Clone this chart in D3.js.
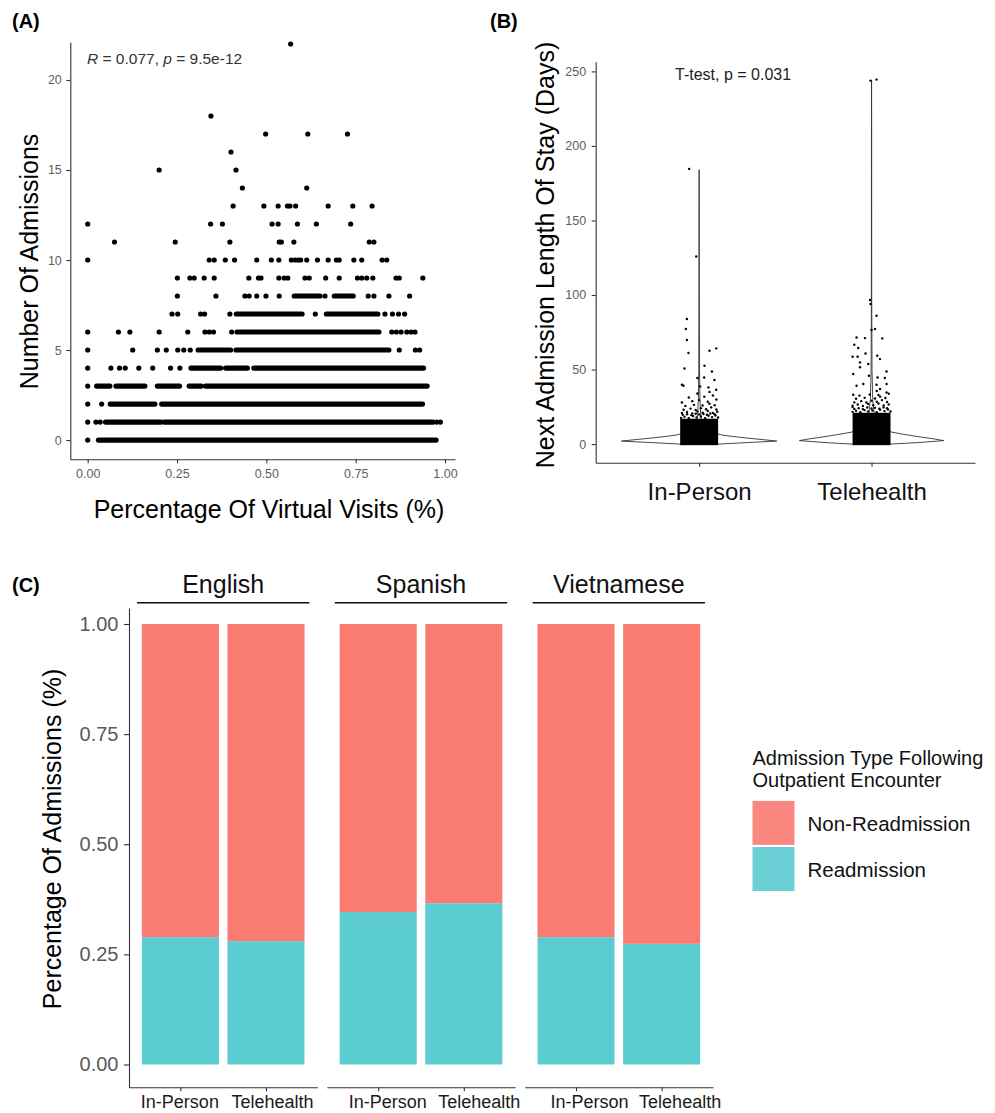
<!DOCTYPE html>
<html>
<head>
<meta charset="utf-8">
<script src="https://cdn.jsdelivr.net/npm/d3@7"></script>
<style>
body { margin: 0; background: #fff; }
text { font-family: "Liberation Sans", Arial, Helvetica, sans-serif; }
</style>
</head>
<body>
<div id="fig"></div>
<script>
// ---------- (A) admissions vs share of virtual visits ----------
// isolated points: [admissions, [pct, pct, ...]]
var sparseDots = [
    [22, [0.568]],
    [18, [0.345]],
    [17, [0.498, 0.616, 0.727]],
    [16, [0.401]],
    [15, [0.200, 0.415]],
    [14, [0.433, 0.613]],
    [13, [0.407, 0.493, 0.533, 0.559, 0.566, 0.582, 0.673, 0.742, 0.796]],
    [12, [0, 0.344, 0.377, 0.516, 0.533, 0.587, 0.640, 0.736]],
    [11, [0.075, 0.245, 0.398, 0.536, 0.542, 0.577, 0.788, 0.801]],
    [10, [0, 0.340, 0.354, 0.385, 0.411, 0.473, 0.514, 0.535, 0.570, 0.581, 0.589, 0.596, 0.613, 0.643, 0.673, 0.696, 0.704, 0.745, 0.767, 0.824, 0.837]],
    [9, [0.251, 0.286, 0.298, 0.326, 0.354, 0.451, 0.478, 0.485, 0.535, 0.550, 0.560, 0.608, 0.620, 0.666, 0.704, 0.755, 0.767, 0.781, 0.798, 0.863, 0.872, 0.938]],
    [8, [0.251, 0.359, 0.440, 0.452, 0.473, 0.499, 0.536, 0.664, 0.785, 0.801, 0.843, 0.901]],
    [7, [0.236, 0.252, 0.316, 0.327, 0.398, 0.637, 0.832, 0.853, 0.870, 0.887]],
    [6, [0, 0.086, 0.118, 0.200, 0.280, 0.328, 0.340, 0.352, 0.403, 0.851, 0.864, 0.877, 0.893, 0.905, 0.916]],
    [5, [0, 0.126, 0.195, 0.220, 0.252, 0.269, 0.287, 0.872, 0.917, 0.929]],
    [4, [0, 0.065, 0.089, 0.105, 0.143, 0.182, 0.232, 0.258]],
    [3, [0]],
    [2, [0, 0.039]],
    [1, [0, 0.023, 0.035, 0.977, 0.987]],
    [0, [0]]
];
// overlapping points that merge into a solid run: [admissions, fromPct, toPct]
var denseRuns = [
    [8, 0.578, 0.650], [8, 0.690, 0.743],
    [7, 0.416, 0.600], [7, 0.668, 0.812],
    [6, 0.418, 0.815],
    [5, 0.309, 0.400], [5, 0.415, 0.843],
    [4, 0.289, 0.372], [4, 0.386, 0.447], [4, 0.465, 0.940],
    [3, 0.025, 0.062], [3, 0.079, 0.160], [3, 0.195, 0.257], [3, 0.284, 0.318], [3, 0.330, 0.950],
    [2, 0.063, 0.188], [2, 0.207, 0.937],
    [1, 0.050, 0.205], [1, 0.214, 0.967],
    [0, 0.030, 0.975]
];
var aTicksX = [0, 0.25, 0.5, 0.75, 1];
var aTicksY = [0, 5, 10, 15, 20];

// ---------- (B) next admission length of stay ----------
var losGroups = ["In-Person", "Telehealth"];
// violin outline: [days, relative half width]
var violinInPerson = [[0, 0.25], [1, 0.62], [2, 1.0], [3, 0.82], [4, 0.62], [5, 0.45], [6, 0.3], [8, 0.16], [10, 0.09], [14, 0.04], [20, 0.02], [30, 0.01], [50, 0.005], [100, 0.002], [184, 0.001]];
var violinTele = [[0, 0.25], [1, 0.6], [2.3, 0.93], [3.5, 0.8], [5, 0.6], [6.5, 0.42], [8, 0.26], [10, 0.15], [14, 0.07], [20, 0.035], [30, 0.015], [50, 0.006], [100, 0.002], [244, 0.001]];
// solid block of overplotted jittered points, top in days
var coreTop = [17, 21];
// jittered points: [offset in category steps, days]
var pointsInPerson = [
    [-0.105, 17.6], [-0.085, 18.3], [-0.06, 17.4], [-0.035, 18.8], [-0.015, 17.9], [0.01, 18.5], [0.035, 17.3], [0.055, 19.0], [0.075, 18.1], [0.095, 19.2], [0.11, 17.8],
    [-0.095, 19.6], [-0.07, 20.0], [-0.045, 19.4], [-0.02, 20.3], [0.0, 19.8], [0.025, 20.2], [0.045, 19.7], [0.065, 20.5], [0.09, 20.0],
    [-0.10, 20.8], [-0.07, 21.5], [-0.04, 20.6], [-0.01, 21.9], [0.02, 21.0], [0.05, 22.2], [0.08, 20.9], [0.105, 21.7],
    [-0.09, 23.0], [-0.05, 23.8], [-0.02, 22.9], [0.01, 24.1], [0.04, 23.4], [0.07, 24.6], [0.10, 23.2],
    [-0.08, 25.6], [-0.03, 26.3], [0.02, 25.9], [0.06, 27.0], [0.09, 26.1],
    [-0.10, 27.9], [-0.04, 28.8], [0.00, 29.5], [0.05, 28.4], [0.10, 29.9],
    [-0.06, 31.2], [0.03, 31.8], [0.08, 32.6], [-0.01, 33.9], [0.06, 35.0],
    [0.099, 36.4], [0.054, 38.0], [0.006, 38.7], [-0.091, 39.1], [-0.10, 39.8],
    [0.089, 43.0], [0.029, 44.7], [-0.01, 44.3], [0.074, 48.7], [0.031, 52.5], [-0.085, 50.7],
    [-0.062, 61.1], [0.060, 62.6], [0.099, 64.2], [-0.071, 69.8], [-0.077, 77.2], [-0.071, 83.9],
    [-0.017, 125.8], [-0.058, 184.6]
];
var pointsTele = [
    [-0.11, 21.6], [-0.09, 22.3], [-0.065, 21.4], [-0.04, 22.8], [-0.02, 21.9], [0.005, 22.5], [0.03, 21.3], [0.05, 23.0], [0.075, 22.1], [0.095, 23.2], [0.11, 21.8],
    [-0.10, 23.6], [-0.075, 24.1], [-0.05, 23.4], [-0.025, 24.5], [0.0, 23.9], [0.02, 24.3], [0.045, 23.7], [0.07, 24.6], [0.09, 24.0], [-0.11, 24.8],
    [-0.11, 25.8], [-0.08, 26.5], [-0.05, 25.5], [-0.02, 26.9], [0.01, 26.0], [0.04, 27.2], [0.07, 25.9], [0.10, 26.6],
    [-0.10, 28.0], [-0.06, 28.8], [-0.03, 27.9], [0.00, 29.1], [0.03, 28.4], [0.06, 29.5], [0.09, 28.2],
    [-0.09, 30.4], [-0.04, 31.0], [0.02, 30.6], [0.05, 31.8], [0.08, 30.9],
    [-0.07, 32.5], [-0.01, 33.3], [0.04, 32.9], [0.10, 33.8],
    [-0.106, 33.1], [0.087, 34.6], [0.03, 35.6], [0.049, 36.9],
    [-0.087, 39.1], [-0.048, 40.3], [0.029, 39.8], [0.087, 40.3],
    [-0.106, 47.0], [-0.015, 45.8], [0.035, 44.7], [0.077, 44.3], [0.087, 48.7],
    [-0.067, 51.5], [-0.067, 54.8], [-0.019, 53.7], [0.049, 57.0],
    [-0.11, 58.6], [-0.081, 58.6], [-0.035, 60.8], [0.033, 59.3],
    [-0.1, 66.6], [-0.077, 64.4], [-0.087, 71.5], [-0.038, 71.1], [0.062, 70.9],
    [0.0, 76.5], [0.02, 77.2], [0.029, 86.1], [-0.006, 94.0], [-0.009, 96.6],
    [-0.006, 243.8], [0.029, 244.5]
];
var bTicksY = [0, 50, 100, 150, 200, 250];

// ---------- (C) admission type by language and visit type ----------
var languages = ["English", "Spanish", "Vietnamese"];
var visitTypes = ["In-Person", "Telehealth"];
var admissionTypes = ["Non-Readmission", "Readmission"];
// share of readmissions per language: [In-Person, Telehealth]
var readmitShare = [[0.289, 0.280], [0.346, 0.366], [0.289, 0.274]];
var cTicksY = [0, 0.25, 0.5, 0.75, 1];

var fontFam = '"Liberation Sans", Arial, Helvetica, sans-serif';
var svg = d3.select("#fig").append("svg")
    .attr("width", 995)
    .attr("height", 1113)
    .style("background", "#fff");

function styleAxis(g, size, color) {
    g.selectAll("path, line").attr("stroke", "#333").attr("stroke-width", 1.1);
    g.selectAll("text")
        .attr("font-size", size)
        .attr("font-family", fontFam)
        .attr("fill", color);
}

function panelLabel(x, y, txt) {
    svg.append("text")
        .attr("x", x).attr("y", y)
        .attr("font-size", 20)
        .attr("font-weight", "bold")
        .attr("fill", "#000")
        .text(txt);
}

// ===== Panel A =====
var xA = d3.scaleLinear().domain([-0.0487, 1.028]).range([70.3, 455]);
var yA = d3.scaleLinear().domain([-1.07, 22.11]).range([459.3, 42]);
var dotR = 2.6;

var gA = svg.append("g");
gA.selectAll("line.run")
    .data(denseRuns)
    .enter().append("line")
    .attr("class", "run")
    .attr("x1", d => xA(d[1]))
    .attr("x2", d => xA(d[2]))
    .attr("y1", d => yA(d[0]))
    .attr("y2", d => yA(d[0]))
    .attr("stroke", "#000")
    .attr("stroke-width", dotR * 2)
    .attr("stroke-linecap", "round");

var flatDots = [];
sparseDots.forEach(function(row) {
    row[1].forEach(function(p) { flatDots.push([p, row[0]]); });
});
gA.selectAll("circle")
    .data(flatDots)
    .enter().append("circle")
    .attr("cx", d => xA(d[0]))
    .attr("cy", d => yA(d[1]))
    .attr("r", dotR)
    .attr("fill", "#000");

svg.append("g")
    .attr("transform", "translate(0,459.3)")
    .call(d3.axisBottom(xA).tickValues(aTicksX).tickFormat(d3.format(".2f")).tickSize(4).tickSizeOuter(0).tickPadding(6))
    .call(g => styleAxis(g, 12.5, "#5e5e5e"));
svg.append("g")
    .attr("transform", "translate(70.3,0)")
    .call(d3.axisLeft(yA).tickValues(aTicksY).tickSize(4).tickSizeOuter(0).tickPadding(4.5))
    .call(g => styleAxis(g, 12.5, "#5e5e5e"));

svg.append("text")
    .attr("x", 269).attr("y", 518)
    .attr("text-anchor", "middle")
    .attr("font-size", 25)
    .attr("fill", "#000")
    .text("Percentage Of Virtual Visits (%)");
svg.append("text")
    .attr("transform", "translate(38,261.5) rotate(-90)")
    .attr("text-anchor", "middle")
    .attr("font-size", 25)
    .attr("fill", "#000")
    .text("Number Of Admissions");

var annA = svg.append("text")
    .attr("x", 87).attr("y", 64.3)
    .attr("font-size", 15.5)
    .attr("fill", "#333");
annA.append("tspan").attr("font-style", "italic").text("R");
annA.append("tspan").text(" = 0.077, ");
annA.append("tspan").attr("font-style", "italic").text("p");
annA.append("tspan").text(" = 9.5e-12");

panelLabel(12, 28, "(A)");

// ===== Panel B =====
var xB = d3.scalePoint().domain(losGroups).range([595.7, 975]).padding(0.6);
var yB = d3.scaleLinear().domain([-12.5, 256.5]).range([462.7, 61.7]);
var halfW = xB.step() * 0.45;
var violins = [violinInPerson, violinTele];
var jitterPts = [pointsInPerson, pointsTele];

var gB = svg.append("g");
losGroups.forEach(function(grp, i) {
    var cx = xB(grp);
    var v = violins[i];
    var right = v.map(d => [cx + d[1] * halfW, yB(d[0])]);
    var left = v.slice().reverse().map(d => [cx - d[1] * halfW, yB(d[0])]);
    gB.append("path")
        .attr("d", d3.line()(right.concat(left)) + "Z")
        .attr("fill", "#fff")
        .attr("stroke", "#333")
        .attr("stroke-width", 0.9);

    gB.append("rect")
        .attr("x", cx - 0.11 * xB.step())
        .attr("width", 0.22 * xB.step())
        .attr("y", yB(coreTop[i]))
        .attr("height", yB(0) - yB(coreTop[i]) + 1.1)
        .attr("fill", "#000");

    gB.selectAll("circle.g" + i)
        .data(jitterPts[i])
        .enter().append("circle")
        .attr("class", "g" + i)
        .attr("cx", d => cx + d[0] * xB.step())
        .attr("cy", d => yB(d[1]))
        .attr("r", 1.2)
        .attr("fill", "#000");
});

svg.append("g")
    .attr("transform", "translate(0,462.7)")
    .call(d3.axisBottom(xB).tickSize(4).tickSizeOuter(0).tickPadding(16))
    .call(g => styleAxis(g, 24, "#111"));
svg.append("g")
    .attr("transform", "translate(595.7,0)")
    .call(d3.axisLeft(yB).tickValues(bTicksY).tickSize(4).tickSizeOuter(0).tickPadding(5.5))
    .call(g => styleAxis(g, 12.5, "#5e5e5e"));

svg.append("text")
    .attr("transform", "translate(554,255) rotate(-90)")
    .attr("text-anchor", "middle")
    .attr("font-size", 25)
    .attr("fill", "#000")
    .text("Next Admission Length Of Stay (Days)");
svg.append("text")
    .attr("x", 675).attr("y", 80)
    .attr("font-size", 16)
    .attr("fill", "#222")
    .text("T-test, p = 0.031");

panelLabel(490, 28, "(B)");

// ===== Panel C =====
var facetX = d3.scaleBand().domain(languages).range([129, 713]).paddingInner(0.048);
var xC = d3.scalePoint().domain(visitTypes).range([0, facetX.bandwidth()]).padding(0.6);
var yC = d3.scaleLinear().domain([-0.0518, 1.0363]).range([1087.3, 608]);
var colorC = d3.scaleOrdinal().domain(admissionTypes).range(["#FA7B72", "#5BCCD2"]);
var barW = xC.step() * 0.9;
var labelShift = [[-1, 6], [9, 15], [13, 18]];

var stack = d3.stack().keys(["Readmission", "Non-Readmission"]);

languages.forEach(function(lang, li) {
    var fx = facetX(lang);
    var rows = visitTypes.map(function(vt, vi) {
        return { visit: vt, "Readmission": readmitShare[li][vi], "Non-Readmission": 1 - readmitShare[li][vi] };
    });
    var series = stack(rows);
    var gF = svg.append("g").attr("transform", "translate(" + fx + ",0)");

    series.forEach(function(s) {
        gF.selectAll("rect." + s.key)
            .data(s)
            .enter().append("rect")
            .attr("x", d => xC(d.data.visit) - barW / 2)
            .attr("width", barW)
            .attr("y", d => yC(d[1]))
            .attr("height", d => yC(d[0]) - yC(d[1]))
            .attr("fill", colorC(s.key));
    });

    // strip
    gF.append("text")
        .attr("x", facetX.bandwidth() / 2)
        .attr("y", 593)
        .attr("text-anchor", "middle")
        .attr("font-size", 25)
        .attr("fill", "#111")
        .text(lang);
    gF.append("line")
        .attr("x1", 8).attr("x2", facetX.bandwidth() - 8)
        .attr("y1", 602.7).attr("y2", 602.7)
        .attr("stroke", "#111")
        .attr("stroke-width", 1.5);

    var ax = gF.append("g")
        .attr("transform", "translate(0,1087.3)")
        .call(d3.axisBottom(xC).tickSize(4).tickSizeOuter(0).tickPadding(4))
        .call(g => styleAxis(g, 18, "#1a1a1a"));
    ax.selectAll(".tick text").attr("dx", (d, i) => labelShift[li][i]);
});

svg.append("g")
    .attr("transform", "translate(129,0)")
    .call(d3.axisLeft(yC).tickValues(cTicksY).tickFormat(d3.format(".2f")).tickSize(5).tickSizeOuter(0).tickPadding(5.5))
    .call(g => styleAxis(g, 20, "#5a5a5a"));

svg.append("text")
    .attr("transform", "translate(61,839) rotate(-90)")
    .attr("text-anchor", "middle")
    .attr("font-size", 25)
    .attr("fill", "#000")
    .text("Percentage Of Admissions (%)");

panelLabel(12, 592, "(C)");

// legend
var legend = svg.append("g").attr("transform", "translate(752.5,0)");
legend.append("text").attr("x", 0).attr("y", 765).attr("font-size", 20).attr("fill", "#111")
    .text("Admission Type Following");
legend.append("text").attr("x", 0).attr("y", 786.7).attr("font-size", 20).attr("fill", "#111")
    .text("Outpatient Encounter");
var legendY = d3.scalePoint().domain(admissionTypes).range([822.9, 869]);
admissionTypes.forEach(function(t) {
    legend.append("rect")
        .attr("x", 0).attr("y", legendY(t) - 22)
        .attr("width", 42).attr("height", 44)
        .attr("fill", colorC(t))
        .attr("fill-opacity", 0.9);
    legend.append("text")
        .attr("x", 55).attr("y", legendY(t) + 8)
        .attr("font-size", 20.5)
        .attr("fill", "#111")
        .text(t);
});
</script>
</body>
</html>
